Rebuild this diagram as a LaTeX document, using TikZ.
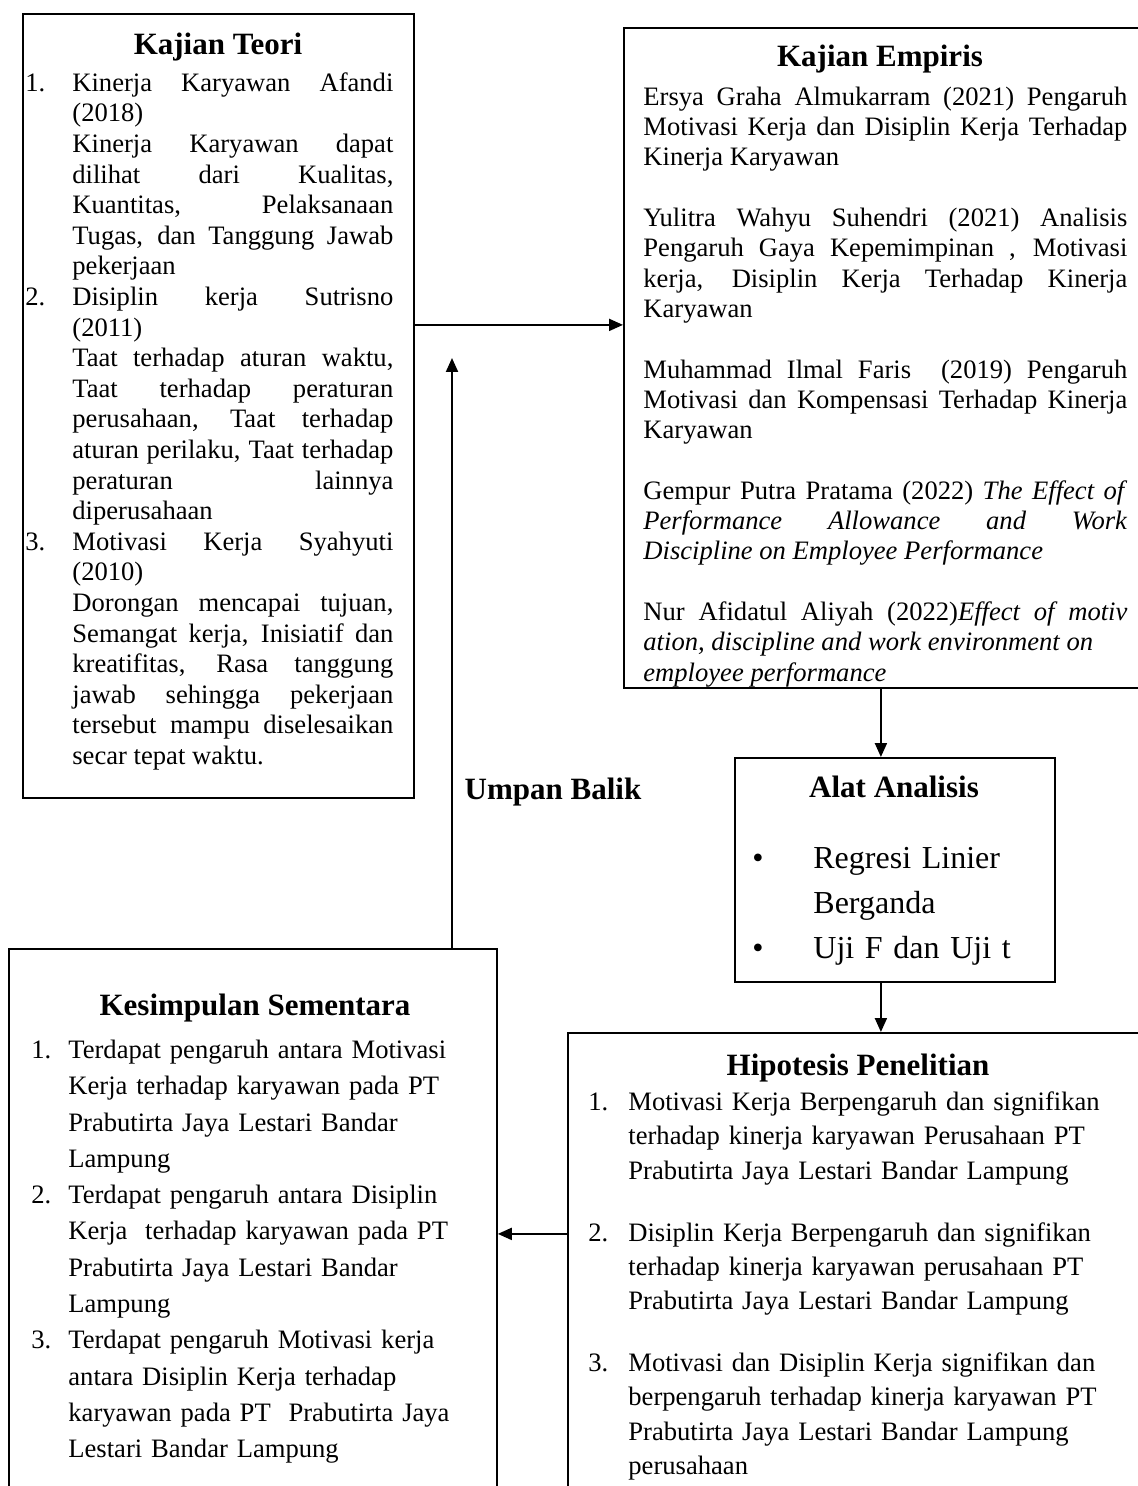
\documentclass[tikz,border=0pt]{standalone}
\usepackage{fontspec}
\setmainfont{Liberation Serif}
\usetikzlibrary{arrows.meta}

\tolerance=10000
\hbadness=10000
\newcommand{\numitem}[3]{\noindent\hangindent=#1\hangafter=1\makebox[#1][l]{#2}#3\par}
\newcommand{\subpara}[2]{\noindent\hangindent=#1\hangafter=0 #2\par}
\newcommand{\firstline}{\rule{0pt}{12pt}}

\begin{document}
\begin{tikzpicture}[
  x=0.5pt, y=-0.5pt,
  box/.style={draw, line width=0.9pt, anchor=north west, inner sep=0pt},
  head/.style={anchor=base, inner sep=0pt, font=\bfseries\fontsize{15.5}{18}\selectfont},
  body/.style={anchor=north west, inner sep=0pt, font=\fontsize{13.3}{15.15}\selectfont},
  arr/.style={-{Triangle[length=7pt, width=6pt]}, line width=1pt}
]
\useasboundingbox (0,0) rectangle (1138,1486);

\node[box, minimum width=195.5pt, minimum height=392pt] (teori) at (22,13) {};
\node[box, minimum width=263.5pt, minimum height=330pt] (empiris) at (623,27) {};
\node[box, minimum width=160pt, minimum height=112pt] (alat) at (734,757) {};
\node[box, minimum width=291.5pt, minimum height=234pt] (hipotesis) at (567,1032) {};
\node[box, minimum width=244pt, minimum height=276pt] (kesimpulan) at (8,948) {};

\node[head] (teoriHead) at (218,55) {Kajian Teori};
\node[head] (empirisHead) at (880,67) {Kajian Empiris};
\node[head] (alatHead) at (894,797) {Alat Analisis};
\node[head] (hipotesisHead) at (858,1075) {Hipotesis Penelitian};
\node[head] (kesimpulanHead) at (255,1015) {Kesimpulan Sementara};
\node[head] (umpan) at (553,799) {Umpan Balik};

\node[body, text width=184pt, align=justify, font=\fontsize{13.3}{15.3}\selectfont] (teoriText) at (25,67) {%
\numitem{23.5pt}{1.}{\firstline Kinerja Karyawan Afandi\linebreak (2018)}
\subpara{23.5pt}{Kinerja Karyawan dapat\linebreak dilihat dari Kualitas,\linebreak Kuantitas, Pelaksanaan\linebreak Tugas, dan Tanggung Jawab\linebreak pekerjaan}
\numitem{23.5pt}{2.}{Disiplin kerja Sutrisno\linebreak (2011)}
\subpara{23.5pt}{Taat terhadap aturan waktu,\linebreak Taat terhadap peraturan\linebreak perusahaan, Taat terhadap\linebreak aturan perilaku, Taat terhadap\linebreak peraturan lainnya\linebreak diperusahaan}
\numitem{23.5pt}{3.}{Motivasi Kerja Syahyuti\linebreak (2010)}
\subpara{23.5pt}{Dorongan mencapai tujuan,\linebreak Semangat kerja, Inisiatif dan\linebreak kreatifitas, Rasa tanggung\linebreak jawab sehingga pekerjaan\linebreak tersebut mampu diselesaikan\linebreak secar tepat waktu.}
};

\node[body, text width=242pt, align=justify] (empirisText) at (643,81) {%
\setlength{\parskip}{15.15pt}%
\noindent\firstline Ersya Graha Almukarram (2021) Pengaruh\linebreak Motivasi Kerja dan Disiplin Kerja Terhadap\linebreak Kinerja Karyawan\par
\noindent Yulitra Wahyu Suhendri (2021) Analisis\linebreak Pengaruh Gaya Kepemimpinan , Motivasi\linebreak kerja, Disiplin Kerja Terhadap Kinerja\linebreak Karyawan\par
\noindent Muhammad Ilmal Faris\ \ (2019) Pengaruh\linebreak Motivasi dan Kompensasi Terhadap Kinerja\linebreak Karyawan\par
\noindent Gempur Putra Pratama (2022) \textit{The Effect of}\linebreak \textit{Performance Allowance and Work}\linebreak \textit{Discipline on Employee Performance}\par
\noindent Nur Afidatul Aliyah (2022)\textit{Effect of motiv}\linebreak \textit{ation, discipline and work environment on}\newline \textit{employee performance}\par
};

\node[body, text width=150pt, align=left, font=\fontsize{16}{22.5}\selectfont] (alatText) at (752,844) {%
\numitem{30.5pt}{\textbullet}{\firstline Regresi Linier\newline Berganda}
\numitem{30.5pt}{\textbullet}{Uji F dan Uji t}
};

\node[body, text width=270pt, align=left, font=\fontsize{13.3}{17.15}\selectfont] (hipotesisText) at (588,1086) {%
\setlength{\parskip}{13.85pt}%
\numitem{20pt}{1.}{\firstline Motivasi Kerja Berpengaruh dan signifikan\newline terhadap kinerja karyawan Perusahaan PT\newline Prabutirta Jaya Lestari Bandar Lampung}
\numitem{20pt}{2.}{Disiplin Kerja Berpengaruh dan signifikan\newline terhadap kinerja karyawan perusahaan PT\newline Prabutirta Jaya Lestari Bandar Lampung}
\numitem{20pt}{3.}{Motivasi dan Disiplin Kerja signifikan dan\newline berpengaruh terhadap kinerja karyawan PT\newline Prabutirta Jaya Lestari Bandar Lampung\newline perusahaan}
};

\node[body, text width=228pt, align=left, font=\fontsize{13.3}{18.15}\selectfont] (kesimpulanText) at (31,1034) {%
\numitem{18.5pt}{1.}{\firstline Terdapat pengaruh antara Motivasi\newline Kerja terhadap karyawan pada PT\newline Prabutirta Jaya Lestari Bandar\newline Lampung}
\numitem{18.5pt}{2.}{Terdapat pengaruh antara Disiplin\newline Kerja\ \ terhadap karyawan pada PT\newline Prabutirta Jaya Lestari Bandar\newline Lampung}
\numitem{18.5pt}{3.}{Terdapat pengaruh Motivasi kerja\newline antara Disiplin Kerja terhadap\newline karyawan pada PT\ \ Prabutirta Jaya\newline Lestari Bandar Lampung}
};

\coordinate (fbtip) at (452,358);

\draw[arr] ([yshift=40.5pt]teori.east) -- ([yshift=40.5pt]teori.east -| empiris.west);
\draw[arr] ([xshift=-7pt]alat.north |- empiris.south) -- ([xshift=-7pt]alat.north);
\draw[arr] ([xshift=-7pt]alat.south) -- ([xshift=-7pt]alat.south |- hipotesis.north);
\draw[arr] ([yshift=16.5pt]hipotesis.west) -- ([yshift=16.5pt]hipotesis.west -| kesimpulan.east);
\draw[arr] (fbtip |- kesimpulan.north) -- (fbtip);
\end{tikzpicture}
\end{document}
